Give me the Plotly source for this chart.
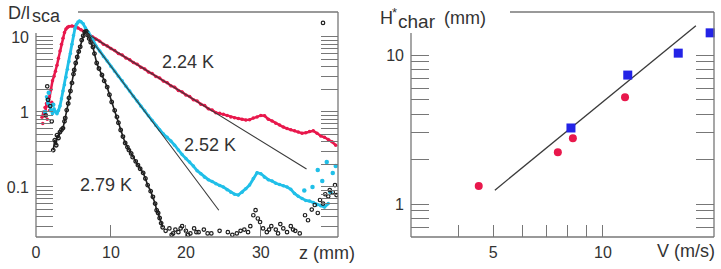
import plotly.graph_objects as go

# ---------------- data: left panel (D/l_sca vs z) ----------------
red_z = [0.8, 1.0, 1.2, 1.4, 1.6, 1.8, 2.0, 2.2, 2.4, 2.6, 2.8, 3.0, 3.2, 3.4, 3.6, 3.8, 4.0, 4.2, 4.4,
         4.8, 5.2, 5.6, 6.0, 6.5, 7.0, 7.5, 8.0, 8.5, 9.0, 9.5, 10.0, 10.5, 11.0, 11.5, 12.0, 12.5,
         13.0, 13.5, 14.0, 14.5, 15.0, 15.5, 16.0, 16.5, 17.0, 17.5, 18.0, 18.5, 19.0, 19.5, 20.0,
         20.5, 21.0, 21.5, 22.0, 22.5, 23.0, 23.5, 24.0, 24.5, 25.0, 25.5, 26.0, 26.5, 27.0, 27.5,
         28.0, 28.5, 29.0, 29.5, 30.0, 30.5, 31.0, 31.5, 32.0, 32.5, 33.0, 33.5, 34.0, 34.5, 35.0,
         35.5, 36.0, 36.5, 37.0, 37.5, 38.0, 38.5, 39.0, 39.5, 40.0]
red_d = [0.85, 1.0, 0.9, 1.3, 1.2, 1.6, 2.0, 2.6, 3.0, 3.5, 4.2, 5.2, 6.5, 8.0, 9.6, 11.5, 12.8, 13.5, 13.8,
         14.0, 13.8, 13.2, 12.5, 11.5, 10.9, 10.1, 9.3, 8.8, 8.0, 7.6, 7.0, 6.6, 6.0, 5.75, 5.25, 4.98,
         4.55, 4.32, 3.95, 3.75, 3.42, 3.26, 2.98, 2.84, 2.58, 2.46, 2.23, 2.14, 1.94, 1.85, 1.69,
         1.61, 1.46, 1.40, 1.27, 1.22, 1.10, 1.06, 0.98, 0.96, 0.93, 0.90, 0.86, 0.84, 0.82, 0.80,
         0.78, 0.79, 0.83, 0.86, 0.90, 0.89, 0.80, 0.76, 0.71, 0.67, 0.63, 0.60, 0.58, 0.56, 0.54,
         0.52, 0.53, 0.55, 0.56, 0.52, 0.48, 0.46, 0.43, 0.40, 0.36]
red_scatter_z = [0.9, 1.2, 1.5, 1.8, 2.1]
red_scatter_d = [0.7, 1.15, 0.8, 1.05, 1.35]

cyan_z = [1.4, 1.6, 1.8, 2.0, 2.2, 2.4, 2.6, 2.8, 3.0, 3.2, 3.4, 3.6, 3.8, 4.0, 4.2, 4.4, 4.6, 4.8, 5.0,
          5.2, 5.4, 5.6, 5.8, 6.0, 6.3, 6.6, 7.0, 7.5, 8.0, 8.5, 9.0, 9.5, 10.0, 10.5, 11.0, 11.5,
          12.0, 12.5, 13.0, 13.5, 14.0, 14.5, 15.0, 15.5, 16.0, 16.5, 17.0, 17.5, 18.0, 18.5, 19.0,
          19.5, 20.0, 20.5, 21.0, 21.5, 22.0, 22.5, 23.0, 23.5, 24.0, 24.5, 25.0, 25.5, 26.0, 26.5,
          27.0, 27.5, 28.0, 28.5, 29.0, 29.5, 30.0, 30.5, 31.0, 31.5, 32.0, 32.5, 33.0, 33.5, 34.0,
          34.5, 35.0, 35.5, 36.0, 36.5, 37.0, 37.5, 38.0, 38.5, 39.0]
cyan_d = [1.6, 1.3, 1.2, 1.05, 0.95, 1.1, 1.0, 0.95, 1.05, 1.2, 1.5, 1.9, 2.3, 2.9, 3.7, 4.7, 6.0, 8.0, 10.5,
          13.0, 14.8, 15.8, 16.3, 16.0, 15.0, 13.2, 11.6, 9.6, 7.6, 6.5, 5.5, 4.8, 4.05, 3.5, 3.0, 2.6,
          2.2, 1.9, 1.62, 1.40, 1.19, 1.04, 0.89, 0.77, 0.66, 0.58, 0.51, 0.46, 0.41, 0.36, 0.31,
          0.27, 0.24, 0.215, 0.19, 0.165, 0.15, 0.135, 0.125, 0.118, 0.11, 0.105, 0.10, 0.092, 0.085,
          0.08, 0.078, 0.085, 0.095, 0.106, 0.13, 0.155, 0.15, 0.135, 0.125, 0.12, 0.112, 0.108,
          0.104, 0.10, 0.093, 0.082, 0.075, 0.07, 0.066, 0.065, 0.062, 0.058, 0.056, 0.054, 0.06]
cyan_scatter_z = [1.2, 1.7, 2.3, 35.8, 36.9, 37.6, 38.2, 38.8, 39.3, 39.6, 40.0]
cyan_scatter_d = [1.0, 1.8, 1.25, 0.09, 0.10, 0.168, 0.12, 0.215, 0.085, 0.154, 0.19]

black_z = [2.3, 2.5, 2.7, 2.8, 3.0, 3.2, 3.4, 3.6, 3.8, 3.9, 4.1, 4.3, 4.4,
           4.6, 4.8, 5.0, 5.1, 5.3, 5.5, 5.7, 5.9, 6.1, 6.3, 6.5, 6.7, 6.9, 7.1, 7.3, 7.6, 7.8, 8.1,
           8.4, 8.8, 9.1, 9.5, 9.8, 10.1, 10.5, 10.8, 11.0, 11.3, 11.6, 11.9, 12.2, 12.4, 12.7, 12.9,
           13.3, 13.6, 13.9, 14.3, 14.6, 14.9, 15.3, 15.6, 15.9, 16.1, 16.3, 16.5, 16.7, 16.9]
black_d = [0.31, 0.42, 0.36, 0.49, 0.45, 0.54, 0.58, 0.61, 0.75, 0.83, 1.06,
           1.3, 1.54, 1.9, 2.44, 3.2, 3.63, 4.5, 5.41, 6.4, 7.4, 9.1, 10.4, 11.7, 11.9, 10.6, 9.5,
           8.5, 7.36, 6.0, 4.5, 3.8, 3.11, 2.6, 2.15, 1.7, 1.36, 1.05, 0.86, 0.72, 0.575, 0.47, 0.386,
           0.34, 0.31, 0.28, 0.25, 0.22, 0.196, 0.175, 0.154, 0.13, 0.106, 0.088, 0.074, 0.06, 0.049,
           0.045, 0.0386, 0.033, 0.029]
black_scatter_z = [1.3, 1.5, 1.6, 1.9, 2.1, 17.3, 17.8, 18.1, 18.3, 18.6, 19.0, 19.3, 19.5, 20.0,
                   20.3, 20.6, 21.1, 21.4, 21.7, 22.4, 22.9, 23.4, 24.5, 25.6, 26.2, 26.8, 27.3,
                   27.8, 28.3, 28.6, 29.0, 29.3, 29.6, 29.9, 30.3, 30.8, 31.1, 31.4, 32.0, 32.3,
                   32.6, 33.0, 33.5, 34.0, 34.3, 34.6, 35.2, 35.9, 36.3, 36.8, 37.2, 37.6, 37.9,
                   38.3, 38.6, 39.0, 39.2, 39.6, 39.9, 40.1, 38.3]
black_scatter_d = [0.9, 2.2, 1.45, 1.2, 0.75, 0.026, 0.028, 0.023, 0.024, 0.027, 0.025, 0.028, 0.03,
                   0.026, 0.023, 0.024, 0.028, 0.025, 0.025, 0.027, 0.024, 0.024, 0.026, 0.025,
                   0.023, 0.024, 0.026, 0.027, 0.025, 0.03, 0.042, 0.049, 0.038, 0.034, 0.028,
                   0.025, 0.027, 0.03, 0.027, 0.024, 0.032, 0.028, 0.025, 0.03, 0.027, 0.026,
                   0.024, 0.042, 0.036, 0.05, 0.0575, 0.045, 0.067, 0.06, 0.08, 0.075, 0.091,
                   0.085, 0.106, 0.078, 15.4]

fit224_z = [6.67, 36.1]
fit224_d = [11.3, 0.174]
fit252_z = [6.67, 24.4]
fit252_d = [11.3, 0.049]

left_x_ticks = [0, 10, 20, 30]
left_x_top_ticks = [10, 20, 30]
left_y_ticks = [0.03, 0.04, 0.05, 0.06, 0.07, 0.08, 0.09, 0.1, 0.2, 0.3, 0.4, 0.5, 0.6, 0.7, 0.8, 0.9,
                1, 2, 3, 4, 5, 6, 7, 8, 9, 10]
left_y_labels = {0.1: "0.1", 1: "1", 10: "10"}

# ---------------- data: right panel (H*char vs V) ----------------
red_v = [4.56, 7.52, 8.27, 11.5]
red_h = [1.32, 2.23, 2.77, 5.22]
blue_v = [8.17, 11.7, 16.1, 19.7]
blue_h = [3.24, 7.34, 10.3, 14.1]
fitv_v = [5.05, 18.0]
fitv_h = [1.24, 15.7]

right_x_ticks = [4, 5, 6, 7, 8, 9, 10]
right_x_labels = {5: "5", 10: "10"}
right_x_top_ticks = [6, 7, 8, 9, 10]
right_y_ticks = [0.7, 0.8, 0.9, 1, 2, 3, 4, 5, 6, 7, 8, 9, 10]
right_y_labels = {1: "1", 10: "10"}

# ---------------- styling ----------------
W, H = 721, 269
L, R, T, B = 36, 7, 12, 32
PW, PH = W - L - R, H - T - B
FONT = "Liberation Sans, Arial, Helvetica, sans-serif"
TXT = "#333333"
AX = "#777777"
RED = "#e8184c"
CYAN = "#20bfe8"
BLUE = "#2323e6"
BLACK = "#1e1e1e"


def px(x):
    return (x - L) / PW


def py(y):
    return (H - B - y) / PH


fig = go.Figure()

fig.add_trace(go.Scatter(x=red_z, y=red_d, mode="lines+markers", xaxis="x", yaxis="y",
                         line=dict(color=RED, width=2.5), marker=dict(color=RED, size=3.5),
                         showlegend=False))
fig.add_trace(go.Scatter(x=red_scatter_z, y=red_scatter_d, mode="markers", xaxis="x", yaxis="y",
                         marker=dict(color=RED, size=3.5), showlegend=False))
fig.add_trace(go.Scatter(x=cyan_z, y=cyan_d, mode="lines+markers", xaxis="x", yaxis="y",
                         line=dict(color=CYAN, width=2.8), marker=dict(color=CYAN, size=3.5),
                         showlegend=False))
fig.add_trace(go.Scatter(x=cyan_scatter_z, y=cyan_scatter_d, mode="markers", xaxis="x", yaxis="y",
                         marker=dict(color=CYAN, size=4.5), showlegend=False))
fig.add_trace(go.Scatter(x=black_z, y=black_d, mode="lines+markers", xaxis="x", yaxis="y",
                         line=dict(color=BLACK, width=1.6),
                         marker=dict(color=BLACK, size=3.5, symbol="circle-open", line=dict(width=1.3)),
                         showlegend=False))
fig.add_trace(go.Scatter(x=black_scatter_z, y=black_scatter_d, mode="markers", xaxis="x", yaxis="y",
                         marker=dict(color=BLACK, size=3.5, symbol="circle-open", line=dict(width=1.2)),
                         showlegend=False))
for fz, fd in [(fit224_z, fit224_d), (fit252_z, fit252_d)]:
    fig.add_trace(go.Scatter(x=fz, y=fd, mode="lines", xaxis="x", yaxis="y",
                             line=dict(color="#3a3a3a", width=1.1), showlegend=False))

fig.add_trace(go.Scatter(x=fitv_v, y=fitv_h, mode="lines", xaxis="x2", yaxis="y2",
                         line=dict(color="#3a3a3a", width=1.3), showlegend=False))
fig.add_trace(go.Scatter(x=red_v, y=red_h, mode="markers", xaxis="x2", yaxis="y2", cliponaxis=False,
                         marker=dict(color=RED, size=8, symbol="circle"), showlegend=False))
fig.add_trace(go.Scatter(x=blue_v, y=blue_h, mode="markers", xaxis="x2", yaxis="y2", cliponaxis=False,
                         marker=dict(color=BLUE, size=9, symbol="square"), showlegend=False))

tickfont = dict(family=FONT, size=16, color=TXT)
common = dict(showgrid=False, zeroline=False, showline=False, ticks="inside",
              tickcolor=AX, tickwidth=1.2, tickfont=tickfont)

d_left = [0, (338 - L) / PW]
d_right = [(411 - L) / PW, 1]

fig.update_layout(
    width=W, height=H, margin=dict(l=L, r=R, t=T, b=B, pad=0),
    paper_bgcolor="white", plot_bgcolor="white",
    font=dict(family=FONT, color=TXT),
    xaxis=dict(domain=d_left, range=[0, 40.3], anchor="y", tickmode="array",
               tickvals=left_x_ticks, ticktext=[str(v) for v in left_x_ticks],
               ticklen=12, ticklabelstandoff=4, **common),
    yaxis=dict(domain=[0, 1], type="log", range=[-1.667, 1.333], anchor="x", tickmode="array",
               tickvals=left_y_ticks, ticktext=[left_y_labels.get(v, "") for v in left_y_ticks],
               ticklen=17, mirror="ticks", ticklabelstandoff=6, **common),
    xaxis3=dict(overlaying="x", side="top", anchor="y", range=[0, 40.3], tickmode="array",
                tickvals=left_x_top_ticks, showticklabels=False, ticklen=12, **common),
    xaxis2=dict(domain=d_right, type="log", range=[0.473, 1.305], anchor="y2", tickmode="array",
                tickvals=right_x_ticks, ticktext=[right_x_labels.get(v, "") for v in right_x_ticks],
                ticklen=12, ticklabelstandoff=4, **common),
    yaxis2=dict(domain=[0, 1], type="log", range=[-0.221, 1.289], anchor="x2", tickmode="array",
                tickvals=right_y_ticks, ticktext=[right_y_labels.get(v, "") for v in right_y_ticks],
                ticklen=18, mirror="ticks", ticklabelstandoff=6, **common),
    xaxis4=dict(overlaying="x2", side="top", anchor="y2", type="log", range=[0.473, 1.305],
                tickmode="array", tickvals=right_x_top_ticks, showticklabels=False, ticklen=12,
                **common),
)

# partial frames (left/top lines do not reach the corner, as in the original)
line = dict(color=AX, width=1.3)
for xd, yd, top_start in [("x domain", "y domain", (78 - 36) / 302),
                          ("x2 domain", "y2 domain", (510 - 411) / 303)]:
    fig.add_shape(type="line", xref=xd, yref=yd, x0=0, x1=1, y0=0, y1=0, line=line)
    fig.add_shape(type="line", xref=xd, yref=yd, x0=1, x1=1, y0=0, y1=1, line=line)
    fig.add_shape(type="line", xref=xd, yref=yd, x0=0, x1=0, y0=0, y1=(237 - 33) / 225, line=line)
    fig.add_shape(type="line", xref=xd, yref=yd, x0=top_start, x1=1, y0=1, y1=1, line=line)


def note(text, x, y, size=18, xanchor="center"):
    fig.add_annotation(text=text, x=px(x), y=py(y), xref="paper", yref="paper",
                       xanchor=xanchor, yanchor="middle", showarrow=False,
                       font=dict(family=FONT, size=size, color=TXT))


note("D/l", 6, 13, xanchor="left")
note("sca", 30, 16, xanchor="left")
note("z (mm)", 327, 253)
note("2.24 K", 188, 62)
note("2.52 K", 210, 145)
note("2.79 K", 106, 185)
note("H", 378, 18, xanchor="left")
note("*", 390, 12, size=13, xanchor="left")
note("char", 396, 21, size=19, xanchor="left")
note("(mm)", 442, 18, xanchor="left")
note("V (m/s)", 686, 251)

fig.write_html("out.html")
